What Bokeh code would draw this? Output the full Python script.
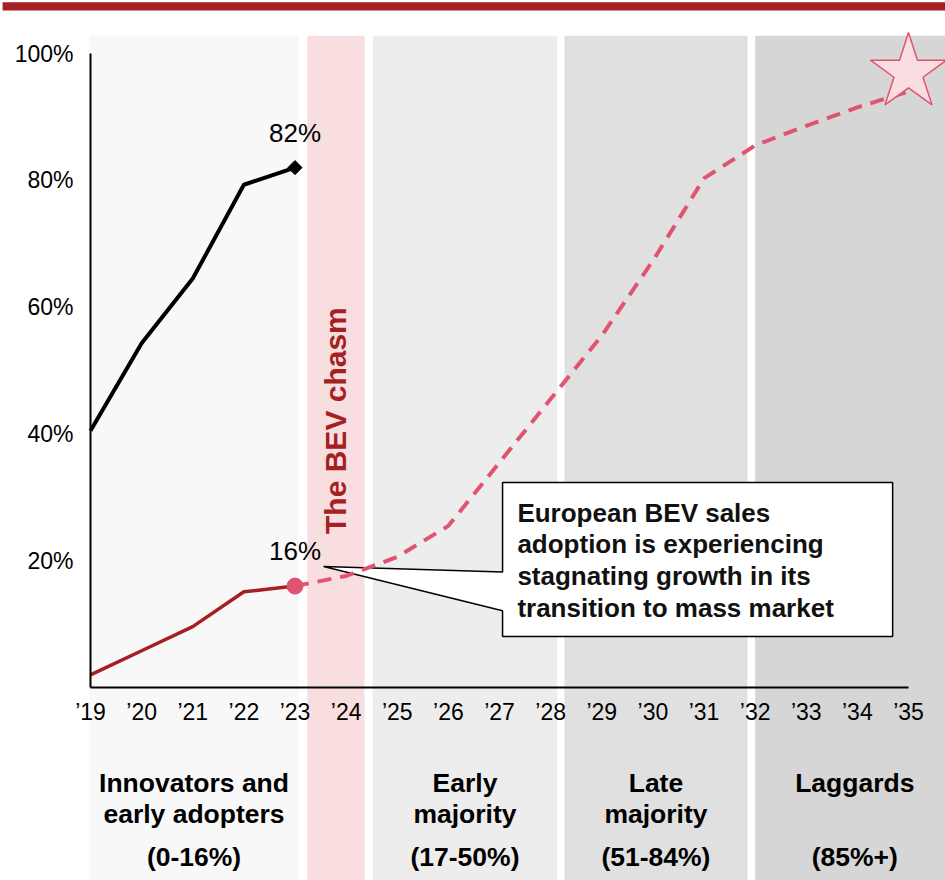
import numpy as np
from bokeh.plotting import figure
from bokeh.models import Range1d, LinearAxis, FixedTicker, PrintfTickFormatter
from bokeh.core.properties import value
from bokeh.embed import file_html
from bokeh.resources import INLINE

# ---- data -------------------------------------------------------------
years = list(range(2019, 2036))
year_labels = ["’19", "’20", "’21", "’22", "’23", "’24", "’25", "’26", "’27",
               "’28", "’29", "’30", "’31", "’32", "’33", "’34", "’35"]
pct_ticks = [20, 40, 60, 80, 100]

hist_years = [2019, 2020, 2021, 2022, 2023]
overall_share = [40.5, 54.3, 64.5, 79.3, 82]      # black curve
bev_share = [2.0, 5.8, 9.6, 15.1, 16]             # European BEV share

forecast_years = [2023, 2024, 2025, 2026, 2027, 2028, 2029, 2030, 2031, 2032, 2033, 2034, 2035]
bev_forecast = [16, 17.6, 20.6, 25.5, 35.5, 45.5, 55.5, 67.3, 80.3, 85.5, 88.6, 91.5, 94.0]

target_year = [2035]
target_share = [97]

phase_start = [2018.98, 2024.52, 2028.27, 2032.0]
phase_end = [2023.07, 2028.13, 2031.85, 2035.9]
phase_line1 = ["Innovators and", "Early", "Late", "Laggards"]
phase_line2 = ["early adopters", "majority", "majority", ""]
phase_range = ["(0-16%)", "(17-50%)", "(51-84%)", "(85%+)"]
phase_colors = ["#F8F8F8", "#EDEDED", "#E0E0E0", "#D6D6D6"]

chasm_start = 2023.24
chasm_end = 2024.36
chasm_label = "The BEV chasm"

callout_lines = ["European BEV sales", "adoption is experiencing",
                 "stagnating growth in its", "transition to mass market"]

# ---- styling ----------------------------------------------------------
FONT = "Liberation Sans"
DARK_RED = "#A51F23"
PINK = "#E0546F"

X0, X1 = 2017.2396, 2035.724
Y0, Y1 = -30.44, 108.36
BAND_TOP = 102.8

p = figure(width=945, height=880, x_range=Range1d(X0, X1), y_range=Range1d(Y0, Y1),
           x_axis_type=None, y_axis_type=None, output_backend="svg",
           toolbar_location=None, min_border=0, outline_line_color=None,
           background_fill_color="white", border_fill_color="white")

# top accent bar
p.quad(left=[2017.28], right=[X1], bottom=[106.8], top=[108.1],
       fill_color=DARK_RED, line_color=None)

# adoption phase bands
p.quad(left=phase_start, right=phase_end, bottom=Y0 - 5, top=BAND_TOP,
       fill_color=phase_colors, line_color=None)
p.quad(left=[chasm_start], right=[chasm_end], bottom=[Y0 - 5], top=[BAND_TOP],
       fill_color="#F8DEDF", line_color=None)

# callout with pointer
bx0, bx1, by0, by1 = 2027.06, 2034.69, 8.04, 32.33
p.patch(x=[bx0, bx1, bx1, bx0, bx0, 2023.56, bx0],
        y=[by1, by1, by0, by0, 12.1, 19.1, 18.2],
        fill_color="white", line_color="black", line_width=1.5)
p.text(x=[bx0 + 0.29] * 4, y=[27.6, 22.6, 17.6, 12.6], text=callout_lines,
       text_font=value(FONT), text_font_style="bold", text_font_size="26px",
       text_color="#111111", text_align="left", text_baseline="middle")

# series
p.line(forecast_years, bev_forecast, line_color=PINK, line_width=4, line_dash="14 9")
p.line(hist_years, overall_share, line_color="black", line_width=4)
p.line(hist_years, bev_share, line_color=DARK_RED, line_width=3.5)
p.scatter(x=[hist_years[-1]], y=[overall_share[-1]], marker="square", angle=np.pi / 4,
          size=10, fill_color="black", line_color="black")
p.scatter(x=[hist_years[-1]], y=[bev_share[-1]], marker="circle", size=16,
          fill_color=PINK, line_color=PINK)
p.scatter(x=target_year, y=target_share, marker="star", size=80,
          fill_color="#F9DDE1", line_color=PINK, line_width=1.5)

# value labels
p.text(x=[hist_years[-1], hist_years[-1]], y=[overall_share[-1], bev_share[-1]],
       text=[f"{overall_share[-1]:.0f}%", f"{bev_share[-1]:.0f}%"],
       y_offset=-35, text_font=value(FONT), text_font_size="26px",
       text_color="black", text_align="center", text_baseline="middle")

# chasm label
p.text(x=[(chasm_start + chasm_end) / 2], y=[42.1], text=[chasm_label], angle=np.pi / 2,
       text_font=value(FONT), text_font_style="bold", text_font_size="30px",
       text_color=DARK_RED, text_align="center", text_baseline="middle")

# phase labels under the axis
centers = [(a + b) / 2 for a, b in zip(phase_start, phase_end)]
for texts, yy in ((phase_line1, -15.0), (phase_line2, -20.0), (phase_range, -26.8)):
    p.text(x=centers, y=[yy] * len(centers), text=texts,
           text_font=value(FONT), text_font_style="bold", text_font_size="26.5px",
           text_color="black", text_align="center", text_baseline="middle")

# axes drawn at the data origin
xaxis = LinearAxis(fixed_location=0, bounds=(2019, 2035),
                   ticker=FixedTicker(ticks=years),
                   major_label_overrides={y: l for y, l in zip(years, year_labels)})
yaxis = LinearAxis(fixed_location=2019, bounds=(0, 100),
                   ticker=FixedTicker(ticks=pct_ticks),
                   formatter=PrintfTickFormatter(format="%d%%"))
for ax, standoff in ((xaxis, 11), (yaxis, 17)):
    ax.axis_line_color = "black"
    ax.axis_line_width = 2
    ax.major_tick_line_color = None
    ax.minor_tick_line_color = None
    ax.major_tick_out = 0
    ax.major_tick_in = 0
    ax.major_label_standoff = standoff
    ax.major_label_text_font = FONT
    ax.major_label_text_font_size = "23px"
    ax.major_label_text_color = "black"
p.add_layout(xaxis, "below")
p.add_layout(yaxis, "left")

open("out.html", "w").write(file_html(p, INLINE))
